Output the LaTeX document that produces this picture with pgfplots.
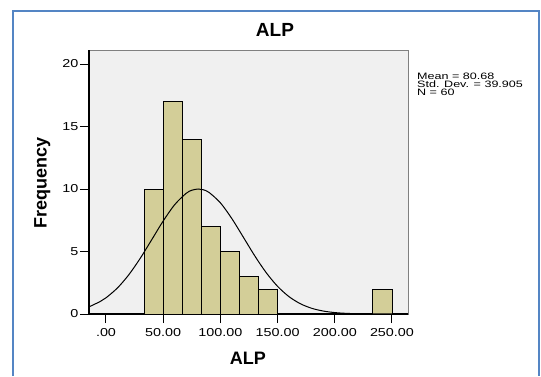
\documentclass[border=0pt]{standalone}
\usepackage{pgfplots}
\pgfplotsset{compat=1.18}
\usepackage{fontspec}
\setmainfont{Liberation Sans}
\newfontfamily\tickfont{Liberation Sans}[FakeStretch=1.25]
\newfontfamily\statfont{Liberation Sans}[FakeStretch=1.35]
\definecolor{barfill}{RGB}{211,206,152}
\definecolor{plotbg}{RGB}{240,240,240}
\definecolor{framecol}{RGB}{84,133,196}
\begin{document}
\begin{tikzpicture}
\path[use as bounding box] (0pt,0pt) rectangle (541pt,376pt);
\draw[framecol, line width=2pt] (13pt,0pt) -- (13pt,365pt) -- (539pt,365pt) -- (539pt,0pt);
\begin{axis}[
  at={(89pt,62pt)}, anchor=south west,
  scale only axis, width=319pt, height=264pt,
  xmin=-14.86, xmax=264, ymin=0, ymax=21.12,
  axis lines*=left,
  axis line style={black, line width=1.3pt},
  axis background/.style={fill=plotbg, draw=gray, line width=0.8pt},
  tick align=outside, major tick length=9pt,
  tick style={black, line width=1pt},
  xtick={0,50,100,150,200,250},
  xticklabels={.00,50.00,100.00,150.00,200.00,250.00},
  ytick={0,5,10,15,20},
  /pgf/number format/assume math mode=true,
  tick label style={font=\tickfont\fontsize{11.5}{12}\selectfont},
  yticklabel style={xshift=2pt},
  xticklabel style={yshift=-2pt},
  title={ALP},
  title style={at={(0.583,1.030)}, anchor=base, font=\bfseries\fontsize{19}{20}\selectfont},
  xlabel={ALP},
  xlabel style={at={(0.498,-0.193)}, anchor=base, font=\bfseries\fontsize{18}{20}\selectfont},
  ylabel={Frequency},
  ylabel style={at={(-0.133,0.496)}, anchor=base, font=\bfseries\fontsize{18}{20}\selectfont},
  clip=true,
]
\addplot[ybar interval, fill=barfill, draw=black, line width=0.9pt]
  coordinates {(33.333,10) (50,17) (66.667,14) (83.333,7) (100,5) (116.667,3) (133.333,2) (150,2)};
\addplot[ybar interval, fill=barfill, draw=black, line width=0.9pt]
  coordinates {(233.333,2) (250,2)};
\addplot[black, line width=1pt, smooth, no markers] coordinates {
(-15,0.564) (-5,1.004) (0,1.295) (10,2.083) (20,3.147) (30,4.464) (40,5.948) (50,7.441)
(60,8.743) (70,9.648) (75,9.900) (80.68,10.0) (85,9.94) (90,9.731) (100,8.894) (110,7.634)
(120,6.154) (130,4.659) (140,3.313) (150,2.212) (160,1.387) (170,0.817) (180,0.452)
(190,0.235) (200,0.114) (210,0.052) (220,0.023) (230,0.009) (240,0.003) (250,0.001) (264,0.0)
};
\end{axis}
\node[anchor=north west, align=left, inner sep=0pt, font=\statfont\fontsize{9.3}{8.4}\selectfont] at (417pt,303.5pt) {Mean = 80.68\\Std. Dev. = 39.905\\N = 60};
\end{tikzpicture}
\end{document}
